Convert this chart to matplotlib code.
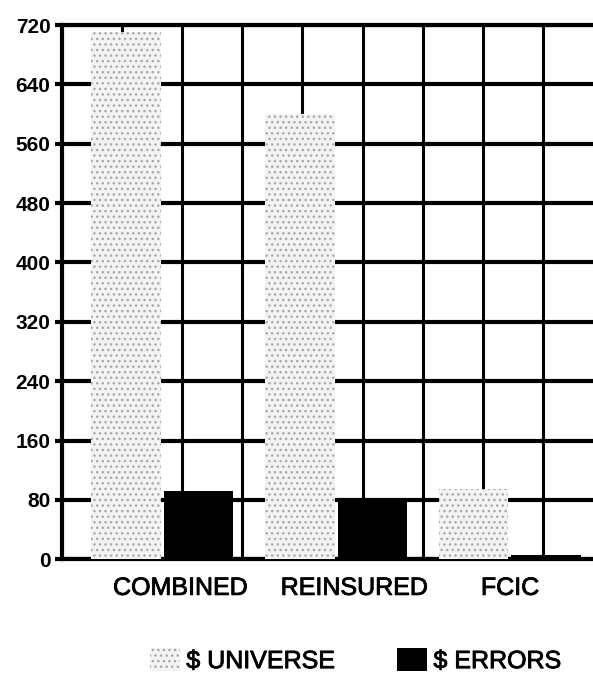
import matplotlib.pyplot as plt
import matplotlib.patheffects as pe
import numpy as np

# values
categories = ['COMBINED', 'REINSURED', 'FCIC']
universe = [710, 600, 95]
errors = [92, 82, 5]
yticks = list(range(0, 721, 80))

plt.rcParams['font.family'] = ['Liberation Sans', 'DejaVu Sans']
plt.rcParams['hatch.linewidth'] = 1.0

fig = plt.figure(figsize=(5.93, 6.77), dpi=100)
ax = fig.add_axes([0.104, 0.174, 0.896, 0.789])

# group layout in grid units (one grid square = 1 unit)
centers = 1.67 + 2.89 * np.arange(len(categories))
label_pos = centers + np.array([0.3, 0.3, 0.0])
w = 1.15
ax.bar(centers - 0.6, universe, width=w, color='#f3f3f3', hatch='...',
       edgecolor='#a8a8a8', linewidth=0, zorder=3, label='$ UNIVERSE')
ax.bar(centers + 0.6, errors, width=w, color='black', linewidth=0,
       zorder=3, label='$ ERRORS')

ax.set_xlim(0, 8.83)
ax.set_ylim(0, 720)

thick = [pe.withStroke(linewidth=0.6, foreground='black')]

# grid lines on whole units, category labels on minor ticks
ax.set_xticks(range(1, 9))
ax.set_xticklabels([])
ax.set_xticks(label_pos, minor=True)
ax.set_xticklabels(categories, minor=True, fontsize=18, path_effects=thick)
ax.tick_params(axis='x', which='both', length=0, pad=12)

ax.set_yticks(yticks)
ax.set_yticklabels([str(t) for t in yticks], fontsize=15, fontweight='bold')
ax.tick_params(axis='y', length=5, width=3, pad=3)

ax.grid(axis='y', color='black', linewidth=3, zorder=1)
ax.grid(axis='x', which='major', color='black', linewidth=2.2, zorder=1)
ax.set_axisbelow(True)

for side in ['left', 'bottom', 'top']:
    ax.spines[side].set_linewidth(3)
ax.spines['right'].set_visible(False)

leg = fig.legend(loc='center left', bbox_to_anchor=(0.232, 0.024), ncol=2,
                 frameon=False, fontsize=18, handlelength=1.2, handleheight=1.0,
                 handletextpad=0.25, columnspacing=2.5, borderpad=0)
for t in leg.get_texts():
    t.set_path_effects(thick)

fig.savefig('out.png', dpi=100)
